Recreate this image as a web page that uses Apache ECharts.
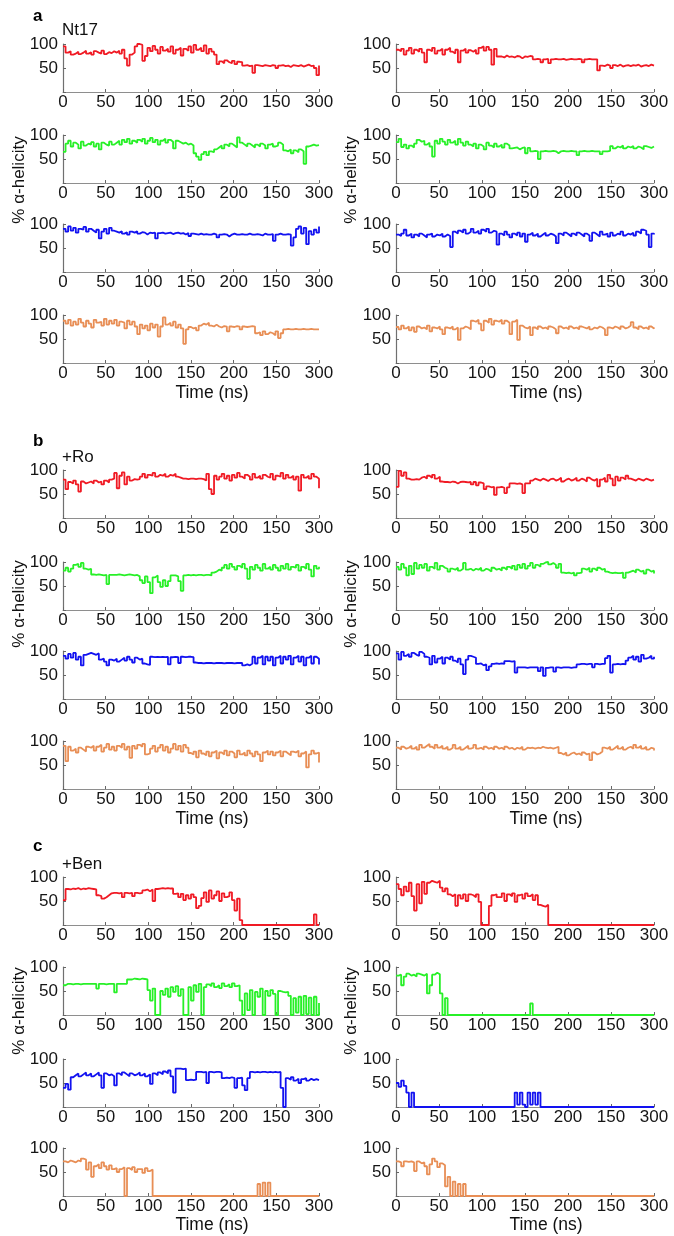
<!DOCTYPE html>
<html><head><meta charset="utf-8">
<script src="https://cdn.jsdelivr.net/npm/echarts@6/dist/echarts.min.js"></script>
<style>html,body{margin:0;padding:0;background:#fff}#c{width:674px;height:1236px}</style>
</head><body><div id="c"></div>
<script>
// ---- data: % alpha-helicity vs time, sampled every 3 ns (0..300) ----
const T_STEP_NS = 3;
const X_TICK_LABELS = ['0','50','100','150','200','150','300'];
const PANEL_LETTERS = ['a','b','c'];
const PANEL_TITLES = ['Nt17','+Ro','+Ben'];
const X_TITLE = 'Time (ns)';
const Y_TITLE = '% \u03b1-helicity';
const COLORS = ['#f01a24','#27f027','#1212f0','#e88e55'];

// Panel a: Nt17
const nt17_L_red = [95,82,85,78,80,84,79,82,86,80, 83,78,85,82,80,86,79,83,81,85, 82,86,80,88,70,55,78,82,95,100, 98,65,75,92,85,96,88,80,94,86, 90,84,95,80,88,92,76,90,86,95, 82,98,88,92,85,97,80,90,84,78, 58,64,60,66,62,60,65,58,63,62, 55,56,54,55,40,56,55,54,56,55, 54,56,55,50,55,56,54,55,52,56, 55,54,56,53,55,57,54,55,50,35, 55];
const nt17_R_red = [88,85,90,78,86,92,80,88,84,90, 82,62,88,85,92,80,86,90,78,88, 92,84,80,88,62,86,90,82,87,84, 88,80,92,95,86,94,88,57,90,74, 74,72,76,73,74,72,75,74,70,74, 73,75,74,68,69,68,62,68,69,60, 68,69,68,68,69,67,68,69,68,68, 69,68,62,68,69,68,68,68,45,55, 54,57,55,50,56,54,57,53,55,56, 54,56,55,57,53,55,56,54,57,55, 56];
const nt17_L_green = [65,82,88,76,84,80,72,86,78,82, 80,85,76,82,70,84,80,78,86,80, 84,88,80,90,85,92,82,88,84,90, 86,92,82,88,94,85,90,80,88,92, 84,90,86,72,88,85,82,84,80,82, 78,62,55,48,60,65,58,66,64,70, 74,78,72,80,76,82,78,74,95,84, 80,76,82,78,74,80,76,82,78,72, 80,82,76,78,84,80,68,66,70,62, 68,64,70,66,40,76,78,80,78,79, 78];
const nt17_R_green = [85,92,75,80,72,78,74,82,90,86, 88,80,84,76,55,88,82,92,86,80, 90,84,88,80,92,84,78,86,80,76, 82,72,80,76,70,84,78,74,82,76, 80,74,82,78,72,73,74,70,73,74, 62,73,66,67,66,50,66,67,66,66, 67,66,62,66,67,66,66,67,66,66, 58,66,67,66,66,67,66,66,66,60, 66,66,67,77,72,76,74,78,72,76, 74,77,72,76,74,70,77,75,73,76, 75];
const nt17_L_blue = [90,84,95,86,92,82,90,88,94,84, 90,86,82,88,70,84,90,80,92,86, 84,82,85,80,83,78,84,82,85,80, 83,82,78,82,81,82,70,81,82,80, 81,82,79,81,82,80,81,78,81,75, 80,79,78,80,78,79,78,78,80,78, 72,78,79,78,74,78,80,78,78,79, 78,78,80,78,78,79,78,76,80,78, 78,79,65,78,80,78,78,79,78,55, 72,90,95,80,92,58,85,78,88,82, 95];
const nt17_R_blue = [78,75,80,88,76,80,72,78,74,80, 76,72,78,80,74,78,76,80,74,78, 75,52,84,80,86,82,88,80,84,90, 82,86,80,88,84,90,82,86,84,57, 80,76,84,78,72,80,76,82,74,80, 63,78,82,76,80,74,78,82,76,80, 78,74,60,80,76,82,78,74,80,76, 82,78,74,80,76,65,82,78,74,84, 78,80,74,82,76,80,78,84,76,80, 78,82,76,84,80,88,86,78,52,80, 78];
const nt17_L_orange = [88,82,90,78,86,80,92,84,76,88, 82,74,90,84,86,78,92,80,88,82, 90,78,86,84,72,88,80,86,76,60, 80,72,78,68,82,74,80,55,76,95, 80,84,78,86,74,80,72,40,70,75, 72,74,68,78,82,80,84,78,76,80, 76,74,77,76,66,76,75,77,76,70, 76,75,76,77,76,62,64,58,66,60, 64,62,58,66,52,62,70,71,70,70, 71,70,70,71,70,70,71,70,70,70, 71];
const nt17_R_orange = [75,70,78,72,76,68,74,65,76,72, 74,70,78,66,74,72,76,70,60,74, 72,76,70,74,48,72,76,74,70,88, 86,90,82,68,88,84,92,80,88,86, 90,82,88,84,60,86,90,48,78,74, 72,76,58,74,70,76,72,74,70,76, 74,70,62,76,72,74,70,76,72,74, 70,76,74,72,76,70,74,72,76,74, 70,58,74,72,76,74,70,76,72,74, 78,85,74,70,76,72,74,70,76,72, 74];

// Panel b: +Ro
const ro_L_red = [80,60,75,72,78,70,55,76,72,74, 76,72,78,74,76,70,78,74,80,82, 94,62,88,95,70,86,78,81,80,81, 86,92,84,90,88,94,86,90,88,92, 86,90,88,92,86,84,82,82,81,82, 82,81,82,82,81,78,92,60,50,88, 80,86,92,82,88,78,90,84,94,86, 82,90,86,80,92,84,88,82,90,86, 84,92,80,88,86,94,82,90,84,88, 80,86,57,90,84,88,82,92,86,82, 62];
const ro_R_red = [65,98,88,95,82,80,80,81,80,84, 86,82,88,84,90,82,86,76,75,75, 74,76,75,72,75,76,75,74,75,70, 75,68,74,72,60,66,64,65,48,64, 65,63,52,64,72,72,71,72,70,52, 72,72,78,82,80,78,82,80,77,81, 82,78,80,84,76,80,82,78,80,84, 78,82,80,76,84,80,78,82,66,80, 84,76,90,82,68,86,78,84,80,88, 82,80,78,82,80,78,82,80,78,80, 80];
const ro_L_green = [82,88,80,86,94,96,90,98,86,84, 86,74,73,74,73,72,73,54,73,73, 73,74,73,72,73,74,73,72,73,70, 62,56,70,58,35,68,72,58,48,62, 50,60,72,72,70,60,40,72,73,72, 73,72,73,73,72,73,73,72,78,80, 84,82,88,94,86,96,90,84,92,88, 96,86,65,90,84,94,88,82,96,86, 90,84,94,88,82,92,86,96,84,90, 88,94,82,90,86,96,84,70,92,86, 90];
const ro_R_green = [90,84,96,88,72,92,75,98,86,94, 88,96,82,90,86,98,84,92,88,86, 80,86,84,88,82,86,98,84,86,82, 86,84,88,82,86,84,80,88,84,86, 82,88,84,90,86,92,84,94,88,96, 86,92,98,88,94,90,96,99,100,95, 98,94,88,96,78,77,78,76,78,72, 77,78,86,84,88,80,86,82,88,84, 86,80,78,77,78,77,77,78,67,78, 80,82,78,84,80,82,76,84,80,82, 76];
const ro_L_blue = [90,84,94,86,96,82,88,70,92,94, 96,94,92,95,82,84,78,70,82,80, 84,78,82,86,80,88,82,76,86,82, 84,74,72,71,88,87,88,87,88,87, 88,72,87,88,87,75,88,87,88,88, 87,76,75,75,74,75,75,75,74,75, 75,75,74,75,75,75,74,75,75,75, 70,72,70,74,88,74,86,90,72,88, 80,88,70,86,90,74,88,82,90,72, 86,90,78,88,70,86,90,74,88,84, 72];
const ro_R_blue = [95,82,98,90,94,88,96,92,90,98, 94,88,86,72,90,76,84,88,74,86, 82,88,80,76,84,72,52,82,90,88, 86,73,74,70,72,60,68,73,74,73, 74,73,79,79,78,79,55,66,66,66, 65,66,66,66,66,58,66,48,65,66, 66,57,66,65,66,66,66,65,66,66, 72,73,73,72,73,73,66,73,72,73, 73,85,90,55,72,73,72,73,72,80, 86,90,82,88,78,92,84,86,90,84, 88];
const ro_L_orange = [90,58,88,80,84,76,86,82,78,88, 86,90,80,88,92,78,86,94,82,88, 80,90,86,94,82,88,65,90,84,92, 88,94,72,74,84,90,78,86,92,80, 88,76,84,94,82,90,78,92,86,75, 72,78,66,80,74,70,78,68,76,80, 64,76,72,80,70,78,74,66,80,72, 76,70,80,74,68,78,72,58,76,80, 72,78,70,76,80,68,78,74,70,78, 76,80,68,74,78,45,72,80,74,76, 55];
const ro_R_orange = [86,82,88,84,86,90,84,88,82,92, 86,90,94,88,84,92,86,90,84,88, 82,86,92,84,88,82,86,90,84,86, 92,84,86,82,88,84,86,82,88,84, 86,82,88,84,86,82,86,84,88,82, 86,85,86,84,86,85,88,86,85,86, 84,86,88,75,72,76,70,74,76,72, 74,70,76,72,74,60,76,72,74,78, 86,84,88,82,86,90,84,88,82,86, 88,84,92,86,90,84,88,82,86,84, 80];

// Panel c: +Ben
const ben_L_red = [52,75,74,76,75,77,74,76,75,77, 76,75,74,62,60,55,58,62,66,67, 67,66,67,58,67,66,67,60,67,66, 67,72,74,70,74,50,75,76,77,76, 77,76,76,65,66,58,65,52,62,55, 64,58,35,40,56,68,48,72,55,62, 70,50,66,58,60,68,52,30,55,10, 0,0,0,0,0,0,0,0,0,0, 0,0,0,0,0,0,0,0,0,0, 0,0,0,0,0,0,0,0,22,0, 0];
const ben_R_red = [85,75,62,80,70,88,60,30,85,45, 90,65,88,92,90,88,92,78,70,76, 64,60,64,40,62,55,64,50,64,62, 58,64,48,0,0,0,40,62,64,58, 58,66,50,64,60,66,48,62,64,55, 66,60,64,52,62,42,40,38,42,0, 0,0,0,0,0,0,0,0,0,0, 0,0,0,0,0,0,0,0,0,0, 0,0,0,0,0,0,0,0,0,0, 0,0,0,0,0,0,0,0,0,0, 0];
const ben_L_green = [62,65,65,64,65,65,64,65,65,65, 65,65,65,55,65,65,64,65,65,65, 47,65,65,65,65,74,74,76,75,74, 76,75,74,52,30,55,0,0,50,42, 55,38,58,48,60,40,54,0,0,58, 30,62,48,65,0,58,64,60,66,58, 62,56,66,60,64,58,66,60,62,30, 0,45,10,52,0,48,38,55,0,50, 40,52,44,0,50,48,47,48,40,0, 35,5,38,0,40,2,36,0,38,0, 25];
const ben_R_green = [82,84,62,80,86,82,84,80,86,84, 82,86,45,62,84,88,85,45,0,35, 0,0,0,0,0,0,0,0,0,0, 0,0,0,0,0,0,0,0,0,0, 0,0,0,0,0,0,0,0,0,0, 0,0,24,0,0,0,0,0,0,0, 0,0,0,0,0,0,0,0,0,0, 0,0,0,0,0,0,0,0,0,0, 0,0,0,0,0,0,0,0,0,0, 0,0,0,0,0,0,0,0,0,0, 0];
const ben_L_blue = [40,48,36,62,66,70,64,68,72,66, 70,64,68,72,66,40,70,66,68,64, 45,70,66,72,68,64,70,66,68,72, 66,70,64,68,48,70,66,72,68,74, 70,76,64,30,80,80,79,80,56,57, 56,57,73,73,72,73,50,73,72,73, 73,72,60,61,60,62,60,40,60,61, 45,35,60,73,72,73,72,73,73,72, 73,72,73,72,73,40,0,60,57,62, 55,59,50,58,60,55,59,56,58,56, 57];
const ben_R_blue = [50,42,55,44,30,0,30,0,0,0, 0,0,0,0,0,0,0,0,0,0, 0,0,0,0,0,0,0,0,0,0, 0,0,0,0,0,0,0,0,0,0, 0,0,0,0,0,0,30,5,30,5, 0,30,5,30,5,30,0,0,0,0, 0,0,0,0,0,0,0,0,0,0, 0,0,0,0,0,0,0,0,0,0, 0,0,0,0,0,0,0,0,0,0, 0,0,0,0,0,0,0,0,0,0, 0];
const ben_L_orange = [72,70,74,72,70,74,72,78,76,55, 70,40,62,66,58,70,62,55,64,56, 58,50,56,60,0,58,54,60,50,56, 56,48,58,52,55,0,0,0,0,0, 0,0,0,0,0,0,0,0,0,0, 0,0,0,0,0,0,0,0,0,0, 0,0,0,0,0,0,0,0,0,0, 0,0,0,0,0,0,25,0,28,0, 28,0,0,0,0,0,0,0,0,0, 0,0,0,0,0,0,0,0,0,0, 0];
const ben_R_orange = [72,70,62,72,71,72,70,52,72,68, 70,62,45,66,78,72,60,68,64,20, 40,0,30,0,25,0,25,0,0,0, 0,0,0,0,0,0,0,0,0,0, 0,0,0,0,0,0,0,0,0,0, 0,0,0,0,0,0,0,0,0,0, 0,0,0,0,0,0,0,0,0,0, 0,0,0,0,0,0,0,0,0,0, 0,0,0,0,0,0,0,0,0,0, 0,0,0,0,0,0,0,0,0,0, 0];

// table: panel -> row -> [left, right]
const PANEL_ROWS = [
  [[nt17_L_red,nt17_R_red],[nt17_L_green,nt17_R_green],[nt17_L_blue,nt17_R_blue],[nt17_L_orange,nt17_R_orange]],
  [[ro_L_red,ro_R_red],[ro_L_green,ro_R_green],[ro_L_blue,ro_R_blue],[ro_L_orange,ro_R_orange]],
  [[ben_L_red,ben_R_red],[ben_L_green,ben_R_green],[ben_L_blue,ben_R_blue],[ben_L_orange,ben_R_orange]]
];

// ---- layout ----
const FONT = '"Liberation Sans", Arial, Helvetica, sans-serif';
const ROW_TOP = [[44,135,224,315],[470,562,651,741],[877,967,1059,1148]];
const GRID_H = 48;
const COL_LEFT = [63,396];
const COL_W = [256,258];
const LETTER_Y = [16,441,846];
const TITLE_Y = [30.5,457.5,864.5];
const TIME_Y = [393.5,819.5,1225];
const TIME_X = [212,546];
const YT_Y = [180,604,1011];
const YT_X = [19,351];

const grids=[], xAxes=[], yAxes=[], series=[];
PANEL_ROWS.forEach((rows,p)=>{
  rows.forEach((pair,r)=>{
    pair.forEach((vals,c)=>{
      const i = grids.length;
      grids.push({left:COL_LEFT[c], top:ROW_TOP[p][r], width:COL_W[c], height:GRID_H});
      xAxes.push({gridIndex:i, type:'value', min:0, max:300, interval:50,
        axisLine:{show:true, lineStyle:{color:'#8e8e8e', width:1}},
        axisTick:{show:true, inside:true, length:3, lineStyle:{color:'#666'}},
        splitLine:{show:false},
        axisLabel:{margin:2, fontSize:17, color:'#151515', fontFamily:FONT,
          formatter:v=>X_TICK_LABELS[Math.round(v/50)]}});
      yAxes.push({gridIndex:i, type:'value', min:0, max:100, interval:50,
        axisLine:{show:true, lineStyle:{color:'#707070', width:1.2}},
        axisTick:{show:true, inside:true, length:3, lineStyle:{color:'#666'}},
        splitLine:{show:false},
        axisLabel:{margin:5, fontSize:17, color:'#151515', fontFamily:FONT,
          formatter:v=> v===0 ? '' : String(v)}});
      series.push({type:'line', xAxisIndex:i, yAxisIndex:i, step:'end', showSymbol:false, silent:true,
        data: vals.map((v,k)=>[k*T_STEP_NS, v]),
        lineStyle:{color:COLORS[r], width:1.8}});
    });
  });
});

const graphics=[];
PANEL_LETTERS.forEach((L,p)=>{
  graphics.push({type:'text', x:33, y:LETTER_Y[p], style:{text:L, fontSize:17, fontWeight:'bold', fontFamily:FONT, fill:'#000', verticalAlign:'middle'}});
  graphics.push({type:'text', x:62, y:TITLE_Y[p], style:{text:PANEL_TITLES[p], fontSize:17, fontFamily:FONT, fill:'#111', verticalAlign:'middle'}});
  TIME_X.forEach(cx=>graphics.push({type:'text', x:cx, y:TIME_Y[p], style:{text:X_TITLE, fontSize:17.5, fontFamily:FONT, fill:'#111', align:'center', verticalAlign:'middle'}}));
  YT_X.forEach(cx=>graphics.push({type:'text', x:cx, y:YT_Y[p], rotation:Math.PI/2, style:{text:Y_TITLE, fontSize:17, fontFamily:FONT, fill:'#111', align:'center', verticalAlign:'middle'}}));
});

const chart = echarts.init(document.getElementById('c'), null, {renderer:'canvas'});
chart.setOption({animation:false, backgroundColor:'#fff', grid:grids, xAxis:xAxes, yAxis:yAxes, series:series, graphic:graphics});
</script></body></html>
